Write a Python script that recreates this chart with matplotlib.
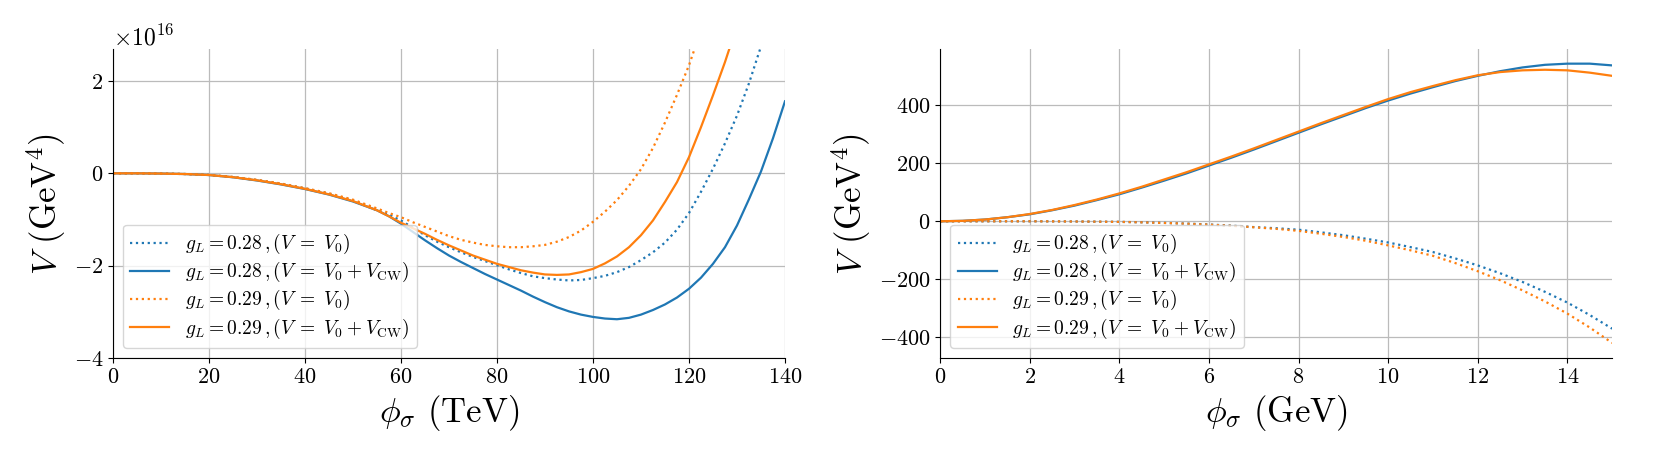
import matplotlib
matplotlib.use("Agg")
import matplotlib.pyplot as plt
import numpy as np

plt.rcParams['font.family'] = 'serif'
plt.rcParams['font.serif'] = ['cmr10', 'DejaVu Serif']
plt.rcParams['mathtext.fontset'] = 'cm'
plt.rcParams['axes.formatter.use_mathtext'] = True
plt.rcParams['axes.unicode_minus'] = True

# left panel: phi_sigma in TeV, V in units of 1e16 GeV^4
phi_tev = [0, 5, 10, 15, 20, 25, 30, 35, 40, 45, 50, 55, 57.5, 60, 62.5, 65, 67.5,
           70, 72.5, 75, 77.5, 80, 82.5, 85, 87.5, 90, 92.5, 95, 97.5, 100, 102.5,
           105, 107.5, 110, 112.5, 115, 117.5, 120, 122.5, 125, 127.5, 130, 132.5,
           135, 137.5, 140]
v0_028 = [0, 0, -0.005, -0.015, -0.035, -0.08, -0.145, -0.225, -0.325, -0.44, -0.59,
          -0.8, -0.9, -1.02, -1.18, -1.34, -1.48, -1.6, -1.71, -1.81, -1.9, -1.99,
          -2.08, -2.16, -2.23, -2.27, -2.3, -2.32, -2.31, -2.27, -2.22, -2.14, -2.03,
          -1.88, -1.71, -1.5, -1.22, -0.86, -0.4, 0.1, 0.65, 1.25, 1.95, 2.75, 3.6,
          np.nan]
vcw_028 = [0, 0, -0.005, -0.015, -0.037, -0.085, -0.155, -0.24, -0.34, -0.46, -0.61,
           -0.8, -0.93, -1.09, -1.27, -1.45, -1.62, -1.78, -1.92, -2.05, -2.18, -2.3,
           -2.42, -2.54, -2.67, -2.79, -2.9, -2.99, -3.06, -3.11, -3.145, -3.16, -3.13,
           -3.06, -2.96, -2.84, -2.69, -2.5, -2.26, -1.96, -1.6, -1.13, -0.56, 0.04,
           0.76, 1.56]
v0_029 = [0, 0, -0.005, -0.015, -0.034, -0.078, -0.14, -0.22, -0.32, -0.43, -0.57,
          -0.76, -0.86, -0.95, -1.06, -1.16, -1.26, -1.36, -1.44, -1.5, -1.55, -1.58,
          -1.6, -1.6, -1.58, -1.55, -1.48, -1.38, -1.24, -1.05, -0.83, -0.58, -0.27,
          0.09, 0.55, 1.1, 1.7, 2.34, 3.1, np.nan, np.nan, np.nan, np.nan, np.nan,
          np.nan, np.nan]
vcw_029 = [0, 0, -0.005, -0.015, -0.036, -0.083, -0.15, -0.235, -0.335, -0.455, -0.6,
           -0.8, -0.93, -1.07, -1.19, -1.31, -1.44, -1.56, -1.67, -1.78, -1.87, -1.96,
           -2.03, -2.1, -2.15, -2.19, -2.2, -2.19, -2.14, -2.07, -1.95, -1.8, -1.6,
           -1.34, -1.02, -0.62, -0.19, 0.35, 1.0, 1.69, 2.41, 3.2, np.nan, np.nan,
           np.nan, np.nan]

# right panel: phi_sigma in GeV, V in GeV^4
phi_gev = [0, 0.5, 1, 1.5, 2, 2.5, 3, 3.5, 4, 4.5, 5, 5.5, 6, 6.5, 7, 7.5, 8, 8.5,
           9, 9.5, 10, 10.5, 11, 11.5, 12, 12.5, 13, 13.5, 14, 14.5, 15]
r_v0_028 = [0, 0, 0, 0, 0, -0.3, -0.7, -1.3, -2, -3.5, -5.5, -8, -11, -15, -20, -24,
            -29, -38, -48, -60, -73, -89, -106, -128, -152, -179, -209, -243, -280,
            -323, -370]
r_vcw_028 = [0, 1.5, 6, 14, 24, 38, 54, 73, 93, 116, 140, 165, 192, 219, 247, 276,
             305, 334, 362, 390, 416, 440, 462, 483, 501, 517, 530, 539, 543, 543, 537]
r_v0_029 = [0, 0, 0, 0, 0, -0.3, -0.7, -1.3, -2, -3.6, -5.8, -8.3, -11.5, -15.5, -20.5,
            -26, -33, -43, -54, -67, -83, -100, -119, -144, -172, -203, -238, -276,
            -318, -366, -419]
r_vcw_029 = [0, 1.5, 6, 14, 25, 39, 56, 75, 96, 119, 144, 169, 196, 223, 251, 280,
             309, 338, 366, 394, 421, 445, 466, 486, 503, 514, 520, 522, 520, 512, 501]

blue = '#1f77b4'
orange = '#ff7f0e'
labels = [r'$g_L = 0.28\,, (V\;=\;V_0)$',
          r'$g_L = 0.28\,, (V\;=\;V_0\:+\:V_{\mathrm{CW}})$',
          r'$g_L = 0.29\,, (V\;=\;V_0)$',
          r'$g_L = 0.29\,, (V\;=\;V_0\:+\:V_{\mathrm{CW}})$']

fig = plt.figure(figsize=(16.61, 4.61), dpi=100)
ax1 = fig.add_axes([0.068, 0.2234, 0.4046, 0.670])
ax2 = fig.add_axes([0.566, 0.2234, 0.4046, 0.670])

ax1.plot(phi_tev, np.array(v0_028) * 1e16, ':', color=blue, lw=1.6, label=labels[0])
ax1.plot(phi_tev, np.array(vcw_028) * 1e16, '-', color=blue, lw=1.6, label=labels[1])
ax1.plot(phi_tev, np.array(v0_029) * 1e16, ':', color=orange, lw=1.6, label=labels[2])
ax1.plot(phi_tev, np.array(vcw_029) * 1e16, '-', color=orange, lw=1.6, label=labels[3])
ax1.set_xlim(0, 140)
ax1.set_ylim(-4e16, 2.69e16)
ax1.set_xticks([0, 20, 40, 60, 80, 100, 120, 140])
ax1.set_yticks([-4e16, -2e16, 0, 2e16])
ax1.set_xlabel(r'$\phi_\sigma$ (TeV)', fontsize=25)
ax1.set_ylabel(r'$V$ (GeV$^4$)', fontsize=25)

ax2.plot(phi_gev, r_v0_028, ':', color=blue, lw=1.6, label=labels[0])
ax2.plot(phi_gev, r_vcw_028, '-', color=blue, lw=1.6, label=labels[1])
ax2.plot(phi_gev, r_v0_029, ':', color=orange, lw=1.6, label=labels[2])
ax2.plot(phi_gev, r_vcw_029, '-', color=orange, lw=1.6, label=labels[3])
ax2.set_xlim(0, 15)
ax2.set_ylim(-471, 593)
ax2.set_xticks([0, 2, 4, 6, 8, 10, 12, 14])
ax2.set_yticks([-400, -200, 0, 200, 400])
ax2.set_xlabel(r'$\phi_\sigma$ (GeV)', fontsize=25)
ax2.set_ylabel(r'$V$ (GeV$^4$)', fontsize=25)

for ax in (ax1, ax2):
    ax.grid(True, color='#bbbbbb', lw=0.9)
    ax.set_axisbelow(True)
    ax.spines['top'].set_visible(False)
    ax.spines['right'].set_visible(False)
    ax.tick_params(labelsize=16)
    ax.yaxis.get_offset_text().set_fontsize(17)
    ax.legend(loc='lower left', fontsize=14, labelspacing=0.2)

fig.savefig('out.png', dpi=100)
